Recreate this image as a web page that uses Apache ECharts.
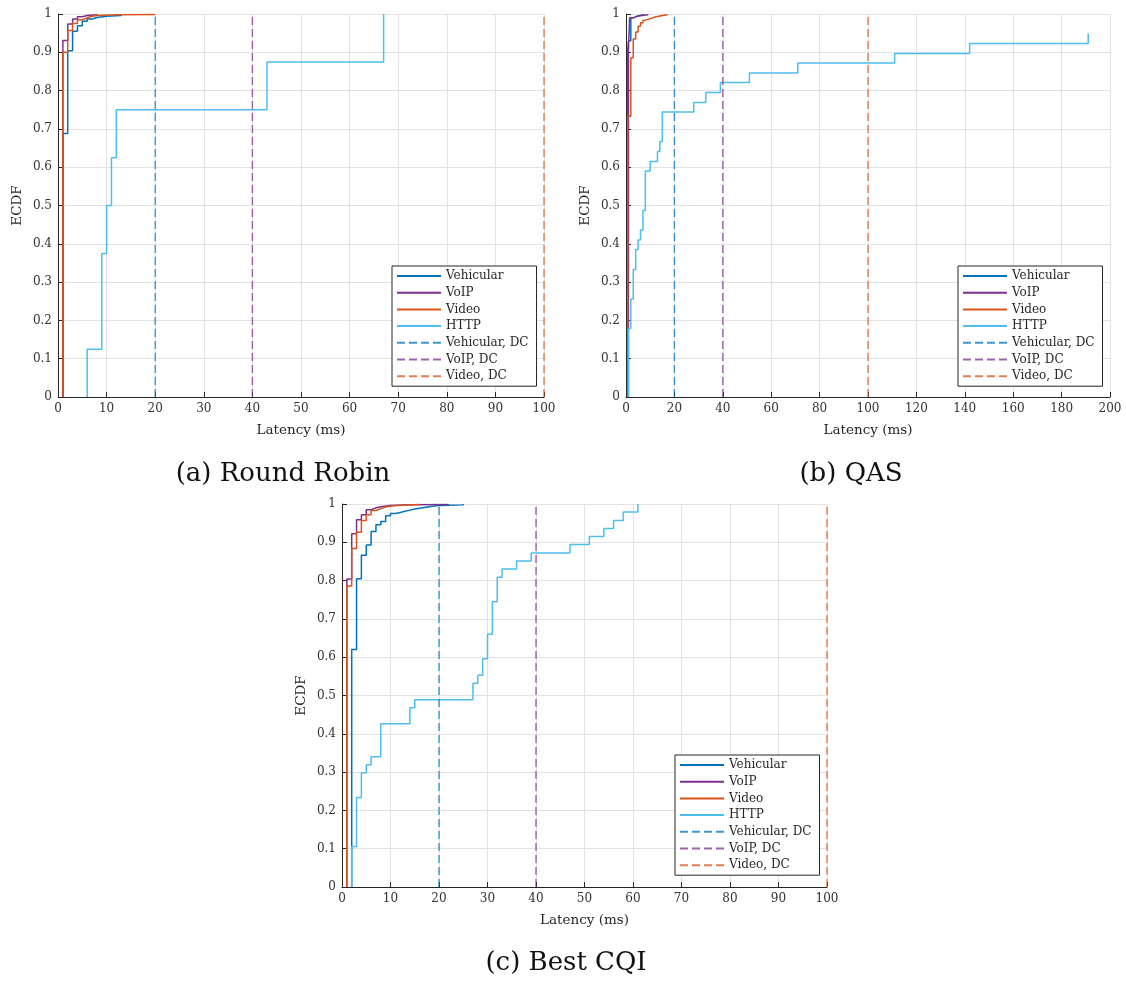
<!DOCTYPE html>
<html>
<head>
<meta charset="utf-8">
<script src="https://cdn.jsdelivr.net/npm/echarts@6/dist/echarts.min.js"></script>
<style>
  html, body { margin: 0; padding: 0; background: #ffffff; }
  #chart { width: 1126px; height: 983px; }
</style>
</head>
<body>
<div id="chart"></div>
<script>
// Traffic classes and their delay constraints (ms)
const classNames = ['Vehicular', 'VoIP', 'Video', 'HTTP'];
const limitNames = ['Vehicular, DC', 'VoIP, DC', 'Video, DC'];
const delayLimits = [20, 40, 100];
const panelTitles = ['(a) Round Robin', '(b) QAS', '(c) Best CQI'];

// Empirical CDF jumps: [latency in ms, cumulative fraction after the jump]
// Round Robin
const rrVehicular = [[1, 0.688], [2, 0.904], [3, 0.955], [4, 0.969], [5, 0.981], [6, 0.987], [7, 0.991], [8, 0.994], [10, 0.996], [13, 1]];
const rrVoip = [[1, 0.931], [2, 0.974], [3, 0.987], [4, 0.993], [5, 0.996], [6, 0.998], [8, 1]];
const rrVideo = [[1, 0.900], [2, 0.957], [3, 0.975], [4, 0.985], [5, 0.990], [6, 0.994], [7, 0.996], [8, 0.998], [12, 0.999], [20, 1]];
const rrHttp = [[6, 0.125], [9, 0.375], [10, 0.5], [11, 0.625], [12, 0.75], [43, 0.875], [67, 1]];

// QAS
const qasVehicular = [[0.7, 0.905], [1, 0.930], [2, 0.990], [3, 0.995], [5, 0.998], [7, 1]];
const qasVoip = [[1, 0.905], [1.5, 0.990], [3, 0.995], [5, 0.998], [9, 1]];
const qasVideo = [[0.7, 0.733], [2, 0.886], [3, 0.935], [4, 0.953], [5, 0.968], [6, 0.977], [7, 0.984], [8, 0.988], [10, 0.992], [12, 0.995], [14, 0.998], [17, 1]];
const qasHttp = [[1, 0.179], [2, 0.256], [3, 0.333], [4, 0.385], [5, 0.410], [6, 0.436], [7, 0.487], [8, 0.590], [10, 0.615], [13, 0.641], [14, 0.667], [15, 0.744], [28, 0.769], [33, 0.795], [39, 0.821], [51, 0.846], [71, 0.872], [111, 0.897], [142, 0.923], [191, 0.949]];

// Best CQI
const cqiVehicular = [[2, 0.620], [3, 0.805], [4, 0.866], [5, 0.893], [6, 0.928], [7, 0.946], [8, 0.954], [9, 0.969], [10, 0.975], [11, 0.978], [12, 0.981], [13, 0.984], [14, 0.987], [15, 0.989], [16, 0.991], [17, 0.993], [18, 0.995], [19, 0.996], [20, 0.997], [22, 0.998], [25, 1]];
const cqiVoip = [[1, 0.804], [2, 0.922], [3, 0.959], [4, 0.972], [5, 0.985], [6, 0.990], [7, 0.993], [8, 0.996], [10, 0.998], [14, 0.999], [22, 1]];
const cqiVideo = [[1, 0.786], [2, 0.884], [3, 0.926], [4, 0.957], [5, 0.972], [6, 0.983], [7, 0.988], [8, 0.992], [9, 0.995], [10, 0.997], [12, 0.999], [16, 1]];
const cqiHttp = [[2, 0.106], [3, 0.234], [4, 0.298], [5, 0.319], [6, 0.340], [8, 0.426], [14, 0.468], [15, 0.489], [27, 0.532], [28, 0.553], [29, 0.596], [30, 0.660], [31, 0.745], [32, 0.809], [33, 0.830], [36, 0.851], [39, 0.872], [47, 0.894], [51, 0.915], [54, 0.936], [56, 0.957], [58, 0.979], [61, 1]];

// x-axis extents per panel
const xMaxima = [100, 200, 100];
const xIntervals = [10, 20, 10];

const panelCurves = [
  [rrVehicular, rrVoip, rrVideo, rrHttp],
  [qasVehicular, qasVoip, qasVideo, qasHttp],
  [cqiVehicular, cqiVoip, cqiVideo, cqiHttp]
];

// ---- styling and layout ----
const classColors = ['#0072BD', '#7E2F8E', '#D95319', '#4DBEEE'];
const serif = 'DejaVu Serif';
const inkColor = '#262626';

const gridBoxes = [
  { left: 58, top: 14, width: 486, height: 383 },
  { left: 626, top: 14, width: 484, height: 383 },
  { left: 342, top: 504, width: 485, height: 383 }
];
const legendSpots = [
  { left: 392, top: 266 },
  { left: 958, top: 266 },
  { left: 675, top: 755 }
];
const captionSpots = [
  { x: 283, y: 474 },
  { x: 851, y: 474 },
  { x: 566, y: 963 }
];

// Stair path starts at the first sample on the zero level
function stairs(points) {
  return [[points[0][0], 0]].concat(points);
}

const grids = [], xAxes = [], yAxes = [], series = [], legends = [], captions = [];

panelCurves.forEach((curves, p) => {
  grids.push(Object.assign({ containLabel: false }, gridBoxes[p]));

  xAxes.push({
    type: 'value', gridIndex: p, min: 0, max: xMaxima[p], interval: xIntervals[p],
    name: 'Latency (ms)', nameLocation: 'middle', nameGap: 26,
    nameTextStyle: { fontFamily: serif, fontSize: 13.5, color: inkColor },
    axisLine: { show: true, onZero: false, lineStyle: { color: inkColor, width: 1 } },
    axisTick: { show: true, inside: true, length: 5, lineStyle: { color: inkColor } },
    axisLabel: { margin: 6, fontFamily: serif, fontSize: 12, color: '#333333' },
    splitLine: { show: true, lineStyle: { color: '#e2e2e2', width: 1 } }
  });

  yAxes.push({
    type: 'value', gridIndex: p, min: 0, max: 1, interval: 0.1,
    name: 'ECDF', nameLocation: 'middle', nameGap: 34, nameRotate: 90,
    nameTextStyle: { fontFamily: serif, fontSize: 13.5, color: inkColor },
    axisLine: { show: true, onZero: false, lineStyle: { color: inkColor, width: 1 } },
    axisTick: { show: true, inside: true, length: 5, lineStyle: { color: inkColor } },
    axisLabel: {
      margin: 6, fontFamily: serif, fontSize: 12, color: '#333333',
      formatter: v => String(Math.round(v * 10) / 10)
    },
    splitLine: { show: true, lineStyle: { color: '#e2e2e2', width: 1 } }
  });

  curves.forEach((pts, k) => {
    series.push({
      type: 'line', name: classNames[k], xAxisIndex: p, yAxisIndex: p,
      data: stairs(pts), step: 'end', symbol: 'none', showSymbol: false,
      itemStyle: { color: classColors[k] },
      lineStyle: { color: classColors[k], width: 1.5 },
      z: 3 + k
    });
  });

  delayLimits.forEach((lim, d) => {
    series.push({
      type: 'line', name: limitNames[d], xAxisIndex: p, yAxisIndex: p,
      data: [[lim, 0], [lim, 1]], symbol: 'none', showSymbol: false,
      clip: false,
      itemStyle: { color: classColors[d] },
      lineStyle: { color: classColors[d], width: 1.4, type: [8, 4], opacity: 0.75 },
      z: 8
    });
  });

  legends.push(Object.assign({
    orient: 'vertical',
    data: classNames.concat(limitNames),
    itemWidth: 44, itemHeight: 12, itemGap: 4.7,
    padding: [4, 8, 4, 4],
    borderColor: inkColor, borderWidth: 1, borderRadius: 0,
    backgroundColor: '#ffffff',
    selectedMode: false,
    // line samples only, no marker dot
    itemStyle: { opacity: 0 },
    textStyle: { fontFamily: serif, fontSize: 12, color: inkColor, lineHeight: 12 }
  }, legendSpots[p]));

  captions.push({
    type: 'text', x: captionSpots[p].x, y: captionSpots[p].y,
    style: {
      text: panelTitles[p], font: '26px "DejaVu Serif"', fill: '#111111',
      align: 'center', verticalAlign: 'middle'
    }
  });
});

const chart = echarts.init(document.getElementById('chart'), null, { renderer: 'canvas' });
chart.setOption({
  animation: false,
  backgroundColor: '#ffffff',
  grid: grids,
  xAxis: xAxes,
  yAxis: yAxes,
  legend: legends,
  series: series,
  graphic: captions
});
</script>
</body>
</html>
